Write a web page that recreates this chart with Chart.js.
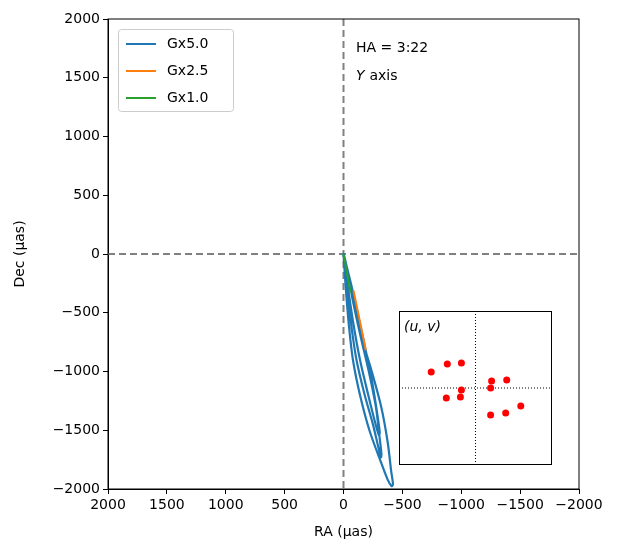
<!DOCTYPE html><html><head><script src="https://cdn.jsdelivr.net/npm/chart.js@4"></script>
<style>body{margin:0;background:#fff}#w{position:relative;width:621px;height:555px}#inset{position:absolute;left:399px;top:311px}</style></head><body><div id="w"><canvas id="c" width="621" height="555"></canvas><canvas id="inset" width="153" height="154"></canvas></div>
<script>
const seriesNames=['Gx5.0','Gx2.5','Gx1.0'];
const colors=['#1f77b4','#ff7f0e','#2ca02c'];
const gx50=[[0,0],[-20,-300],[-45,-600],[-80,-900],[-140,-1200],[-220,-1500],[-310,-1750],[-375,-1920],[-408,-1975],[-420,-1960],[-405,-1850],[-375,-1600],[-320,-1300],[-240,-1000],[-150,-700],[-85,-400],[-35,-150],[0,0],
[-30,-300],[-65,-600],[-110,-900],[-180,-1200],[-250,-1450],[-295,-1640],[-318,-1730],[-322,-1700],[-305,-1550],[-275,-1300],[-215,-1000],[-145,-700],[-80,-400],[-30,-120],[0,0],
[-40,-300],[-85,-600],[-140,-900],[-210,-1200],[-265,-1420],[-300,-1540],[-308,-1520],[-285,-1350],[-245,-1100],[-195,-850],[-130,-550],[-70,-280],[0,0]];
const gx25=[[-85,-310],[-190,-820]];
const gx10=[[0,0],[-60,-330]];
const uv=[[-44,16],[-28,24],[-14,25],[-14,-2],[-29,-10],[-15,-9],[16,7],[31,8],[15,0],[45,-18],[30,-25],[15,-27]];
const ticks=[2000,1500,1000,500,0,-500,-1000,-1500,-2000];
const F='DejaVu Sans';
const pts=a=>a.map(p=>({x:p[0],y:p[1]}));
const deco={id:'deco',beforeDatasetsDraw(ch){const c=ch.ctx,x=ch.scales.x,y=ch.scales.y,a=ch.chartArea;c.save();c.strokeStyle='#808080';c.lineWidth=2;c.setLineDash([7,4]);
c.beginPath();c.moveTo(x.getPixelForValue(0),a.top);c.lineTo(x.getPixelForValue(0),a.bottom);c.moveTo(a.left,y.getPixelForValue(0));c.lineTo(a.right,y.getPixelForValue(0));c.stroke();c.restore();},
afterDraw(ch){const c=ch.ctx,a=ch.chartArea;c.save();c.strokeStyle='#000';c.lineWidth=1;c.strokeRect(a.left,a.top,a.right-a.left,a.bottom-a.top);
c.fillStyle='#000';c.font='14px '+F;c.textBaseline='middle';c.fillText('HA = 3:22',356,48);c.font='italic 14px '+F;c.fillText('Y',356,76);c.font='14px '+F;c.fillText(' axis',365,76);
c.strokeStyle='#ccc';c.lineWidth=1;c.fillStyle='rgba(255,255,255,0.9)';c.beginPath();c.roundRect(118.5,29.5,115,82,3);c.fill();c.stroke();
seriesNames.forEach((n,i)=>{const yy=44+i*27;c.strokeStyle=colors[i];c.lineWidth=2;c.beginPath();c.moveTo(126,yy);c.lineTo(156,yy);c.stroke();c.fillStyle='#000';c.font='14px '+F;c.fillText(n,167,yy);});
c.restore();}};
const tk={color:'#000',font:{family:F,size:14},maxRotation:0,padding:3,callback:v=>String(v).replace('-','\u2212')};
const gr={drawOnChartArea:false,tickLength:5,color:'#000'};
new Chart(document.getElementById('c'),{type:'scatter',data:{datasets:[
{data:pts(gx50),showLine:true,borderColor:colors[0],borderWidth:2.2,pointRadius:0,tension:0.3,order:3},
{data:pts(gx25),showLine:true,borderColor:colors[1],borderWidth:2,pointRadius:0,order:1},
{data:pts(gx10),showLine:true,borderColor:colors[2],borderWidth:2,pointRadius:0,order:2}]},
options:{responsive:false,animation:false,layout:{padding:{top:19,right:42}},plugins:{legend:{display:false},tooltip:{enabled:false}},
scales:{x:{reverse:true,min:-2000,max:2000,afterBuildTicks:s=>{s.ticks=ticks.map(v=>({value:v}))},afterFit:s=>{s.height=66},grid:gr,border:{color:'#000'},
ticks:tk,title:{display:true,text:'RA (\u00b5as)',color:'#000',font:{family:F,size:14},padding:{top:2,bottom:14}}},
y:{min:-2000,max:2000,afterBuildTicks:s=>{s.ticks=ticks.map(v=>({value:v}))},afterFit:s=>{s.width=108},grid:gr,border:{color:'#000'},
ticks:tk,title:{display:true,text:'Dec (\u00b5as)',color:'#000',font:{family:F,size:14},padding:{top:12,bottom:0}}}}},plugins:[deco]});
const ideco={id:'ideco',beforeDatasetsDraw(ch){const c=ch.ctx,x=ch.scales.x,y=ch.scales.y,W=ch.width,H=ch.height;c.save();c.strokeStyle='#000';c.lineWidth=1;c.setLineDash([1,2]);c.beginPath();c.moveTo(x.getPixelForValue(0),0);c.lineTo(x.getPixelForValue(0),H);c.moveTo(0,y.getPixelForValue(0));c.lineTo(W,y.getPixelForValue(0));c.stroke();c.setLineDash([]);c.strokeRect(0.5,0.5,W-1,H-1);
c.fillStyle='#000';c.font='italic 14px '+F;c.textBaseline='middle';c.fillText('(u, v)',5,16);c.restore();}};
new Chart(document.getElementById('inset'),{type:'scatter',data:{datasets:[{data:pts(uv),backgroundColor:'#ff0000',borderWidth:0,pointRadius:3.5}]},
options:{responsive:false,animation:false,layout:{padding:0,autoPadding:false},plugins:{legend:{display:false},tooltip:{enabled:false}},scales:{x:{display:false,min:-76,max:76},y:{display:false,min:-77,max:77}}},plugins:[ideco]});
</script></body></html>
